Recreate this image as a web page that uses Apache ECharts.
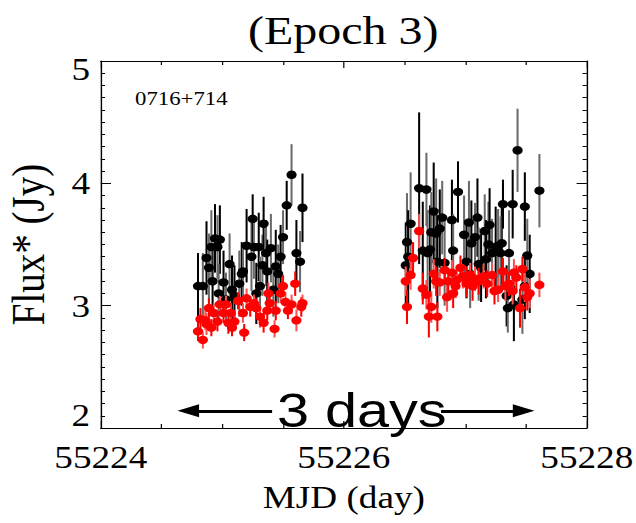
<!DOCTYPE html>
<html><head><meta charset="utf-8">
<script src="https://cdn.jsdelivr.net/npm/echarts@6/dist/echarts.min.js"></script>
<style>
html,body{margin:0;padding:0;background:#fff;overflow:hidden;}
#wrap{width:636px;height:523px;overflow:hidden;background:#fff;}
#c{width:530px;height:523px;transform:scaleX(1.2);transform-origin:0 0;}
</style></head><body><div id="wrap"><div id="c"></div></div>
<script>
// ---- data (MJD, Flux*, error) ----
const blackT = [55224.80,55224.84,55224.87,55224.89,55224.92,55224.91,55224.94,55224.96,55224.98,55224.97,55225.01,55225.06,55225.08,55225.03,55225.10,55225.14,55225.16,55225.17,55225.20,55225.24,55225.25,55225.26,55225.30,55225.33,55225.34,55225.36,55225.37,55225.31,55225.28,55225.40,55225.44,55225.46,55225.48,55225.50,55225.53,55225.57,55225.61,55225.64,55225.66,55225.42,
55226.51,55226.52,55226.53,55226.55,55226.62,55226.68,55226.65,55226.69,55226.71,55226.72,55226.74,55226.76,55226.79,55226.81,55226.77,55226.83,55226.89,55226.90,55226.94,55226.99,55227.01,55227.03,55227.05,55227.08,55227.10,55227.11,55227.13,55227.16,55227.17,55227.19,55227.20,55227.22,55227.25,55227.27,55227.30,55227.29,55227.31,55227.36,55227.39,55227.43,55227.49,55227.51,55227.53,55227.61,55227.34,55227.35,55227.40,55227.47,55227.49,55227.04];
const blackF = [3.16,3.16,3.39,3.31,3.20,3.48,3.55,3.48,3.54,3.10,3.19,3.34,3.13,3.05,3.08,3.18,3.26,3.28,3.49,3.40,3.71,3.48,3.48,3.33,3.67,3.43,3.28,3.16,3.10,3.47,3.32,3.26,3.40,3.56,3.82,4.07,3.43,3.36,3.80,3.13,
3.33,3.52,3.40,3.67,3.96,3.95,3.45,3.43,3.46,3.60,3.77,3.59,3.63,3.72,3.36,3.35,3.70,3.45,3.93,3.58,3.36,3.68,3.51,3.56,3.72,3.34,3.31,3.61,3.38,3.50,3.66,3.43,3.48,3.49,3.51,3.43,3.83,3.43,3.83,4.27,3.81,3.41,3.26,3.94,3.08,2.98,3.01,3.05,3.16,3.26];
const blackE = [0.27,0.27,0.30,0.28,0.25,0.30,0.28,0.26,0.28,0.24,0.26,0.25,0.28,0.22,0.25,0.27,0.26,0.24,0.30,0.28,0.20,0.26,0.28,0.25,0.22,0.27,0.26,0.24,0.25,0.28,0.30,0.24,0.26,0.22,0.20,0.25,0.27,0.25,0.28,0.22,
0.35,0.40,0.38,0.42,0.62,0.30,0.40,0.35,0.36,0.33,0.40,0.45,0.32,0.30,0.38,0.35,0.33,0.30,0.25,0.32,0.30,0.34,0.35,0.28,0.32,0.30,0.28,0.30,0.32,0.35,0.30,0.28,0.33,0.30,0.35,0.30,0.20,0.35,0.28,0.34,0.28,0.30,0.32,0.30,0.25,0.20,0.30,0.28,0.27,0.28];
const redT = [55224.80,55224.84,55224.82,55224.86,55224.89,55224.87,55224.91,55224.93,55224.96,55224.98,55225.01,55225.03,55225.05,55225.07,55225.08,55225.10,55225.13,55225.17,55225.18,55225.20,55225.23,55225.26,55225.28,55225.31,55225.34,55225.38,55225.39,55225.43,55225.44,55225.48,55225.50,55225.52,55225.54,55225.57,55225.60,55225.61,55225.65,55225.66,55225.37,
55226.51,55226.52,55226.55,55226.57,55226.62,55226.65,55226.68,55226.70,55226.72,55226.77,55226.74,55226.76,55226.79,55226.83,55226.85,55226.86,55226.89,55226.90,55226.93,55226.96,55226.98,55227.01,55227.04,55227.06,55227.08,55227.11,55227.15,55227.18,55227.22,55227.24,55227.27,55227.31,55227.33,55227.36,55227.40,55227.42,55227.39,55227.47,55227.49,55227.51,55227.53,55227.45,55227.61,55227.01,55226.92];
const redF = [2.79,2.72,2.89,2.88,2.98,2.85,2.82,2.94,2.87,3.01,2.94,3.01,2.86,2.94,2.82,2.87,3.04,2.94,2.78,3.06,2.99,3.02,2.98,2.91,2.86,3.10,3.02,2.81,2.96,3.10,3.16,3.03,2.96,3.01,3.18,2.88,2.99,3.02,2.96,
3.20,2.99,3.25,3.39,3.61,3.14,3.09,2.91,2.99,2.91,3.26,3.20,3.19,3.29,3.07,3.20,3.27,3.10,3.21,3.31,3.24,3.21,3.25,3.16,3.22,3.20,3.24,3.18,3.25,3.12,3.13,3.28,3.16,3.18,3.27,3.23,3.12,3.30,3.15,3.07,3.10,2.98,3.17,3.18,3.16];
const redE = [0.08,0.07,0.09,0.08,0.08,0.09,0.07,0.08,0.08,0.07,0.08,0.07,0.09,0.08,0.07,0.08,0.07,0.08,0.07,0.08,0.08,0.07,0.08,0.09,0.08,0.09,0.08,0.07,0.08,0.08,0.09,0.08,0.07,0.08,0.10,0.09,0.08,0.07,0.08,
0.12,0.14,0.12,0.13,0.14,0.13,0.12,0.17,0.13,0.12,0.12,0.12,0.11,0.10,0.12,0.11,0.10,0.12,0.11,0.10,0.10,0.11,0.10,0.12,0.10,0.11,0.10,0.11,0.10,0.11,0.10,0.11,0.12,0.10,0.11,0.10,0.11,0.10,0.12,0.11,0.12,0.16,0.10,0.11,0.10];
const xTickLabels = [55224, 55226, 55228];
const yTickLabels = [2, 3, 4, 5];
const titleText = '(Epoch 3)';
const sourceName = '0716+714';
const spanText = '3 days';
const spanLeft = [55224.72, 55225.41];
const spanRight = [55226.80, 55227.48];
const spanY = 2.14;

const SERIF = '"Liberation Serif","Times New Roman",serif';
const chart = echarts.init(document.getElementById('c'), null, {renderer: 'svg'});

function errRender(colA, colB, w) {
  return function (params, api) {
    const x = api.value(0);
    const p1 = api.coord([x, api.value(1)]);
    const p2 = api.coord([x, api.value(2)]);
    const idx = api.value(3);
    return {
      type: 'line',
      shape: {x1: p1[0], y1: p1[1], x2: p2[0], y2: p2[1]},
      style: {stroke: idx % 2 ? colB : colA, lineWidth: w}
    };
  };
}

const axisCommon = {
  type: 'value', min: 55224, max: 55228, interval: 2,
  axisLine: {show: true, onZero: false, lineStyle: {color: '#000', width: 1.2}},
  axisTick: {show: true, inside: true, length: 7, lineStyle: {color: '#000', width: 1}},
  minorTick: {show: true, splitNumber: 4, length: 4, lineStyle: {color: '#000', width: 1}},
  splitLine: {show: false}, minorSplitLine: {show: false}
};
const yCommon = {
  type: 'value', min: 2, max: 5, interval: 1,
  axisLine: {show: true, onZero: false, lineStyle: {color: '#000', width: 1.2}},
  axisTick: {show: true, inside: true, length: 8.5, lineStyle: {color: '#000', width: 1}},
  minorTick: {show: true, splitNumber: 10, length: 3.5, lineStyle: {color: '#000', width: 1}},
  splitLine: {show: false}, minorSplitLine: {show: false}
};

chart.setOption({
  backgroundColor: '#fff',
  animation: false,
  grid: {left: 84, right: 41, top: 61, bottom: 95, containLabel: false, outerBoundsMode: 'none'},
  xAxis: [
    Object.assign({}, axisCommon, {
      position: 'bottom',
      axisLabel: {show: true, fontFamily: SERIF, fontSize: 31, color: '#000', margin: 14,
        formatter: v => xTickLabels.indexOf(Math.round(v)) >= 0 && Math.abs(v - Math.round(v)) < 1e-6 ? String(Math.round(v)) : ''},
      name: 'MJD (day)', nameLocation: 'middle', nameGap: 54,
      nameTextStyle: {fontFamily: SERIF, fontSize: 31, color: '#000'}
    }),
    Object.assign({}, axisCommon, {position: 'top', axisLabel: {show: false}})
  ],
  yAxis: [
    Object.assign({}, yCommon, {
      position: 'left',
      axisLabel: {show: true, fontFamily: SERIF, fontSize: 31, color: '#000', margin: 9,
        formatter: v => {
          const r = Math.round(v);
          if (yTickLabels.indexOf(r) < 0) return '';
          if (r === yTickLabels[0]) return '{lo|' + r + '}';
          if (r === yTickLabels[yTickLabels.length - 1]) return '{hi|' + r + '}';
          return String(r);
        },
        rich: {
          lo: {fontFamily: SERIF, fontSize: 31, color: '#000', padding: [0, 0, 26, 0]},
          hi: {fontFamily: SERIF, fontSize: 31, color: '#000', padding: [16, 0, 0, 0]}
        }},
      name: 'Flux* (Jy)', nameLocation: 'middle', nameGap: 41, nameRotate: 90,
      nameTextStyle: {fontFamily: SERIF, fontSize: 39, color: '#000'}
    }),
    Object.assign({}, yCommon, {position: 'right', axisLabel: {show: false}})
  ],
  graphic: [
    {type: 'text', x: 286, y: 31, style: {text: titleText, font: '40px ' + SERIF, fill: '#000', textAlign: 'center', textVerticalAlign: 'middle'}},
    {type: 'text', x: 112.5, y: 99, style: {text: sourceName, font: '19px ' + SERIF, fill: '#000', textAlign: 'left', textVerticalAlign: 'middle'}},
    {type: 'text', x: 301.5, y: 410, z: 100, style: {text: spanText, font: '48px "Liberation Sans",Arial,sans-serif', fill: '#000', textAlign: 'center', textVerticalAlign: 'middle'}}
  ],
  series: [
    {type: 'custom', name: 'blackErr', renderItem: errRender('#000', '#6a6a6a', 1.7), z: 2,
      data: blackT.map((t, i) => [t, blackF[i] - blackE[i], blackF[i] + blackE[i], i]), encode: {x: 0, y: [1, 2]}},
    {type: 'scatter', name: 'black', symbol: 'circle', symbolSize: 8.5, z: 3, itemStyle: {color: '#000', opacity: 1},
      data: blackT.map((t, i) => [t, blackF[i]])},
    {type: 'custom', name: 'redErr', renderItem: errRender('#ff0000', '#ff5050', 1.7), z: 4,
      data: redT.map((t, i) => [t, redF[i] - redE[i], redF[i] + redE[i], i]), encode: {x: 0, y: [1, 2]}},
    {type: 'scatter', name: 'red', symbol: 'circle', symbolSize: 8.5, z: 5, itemStyle: {color: '#ff0000', opacity: 1},
      data: redT.map((t, i) => [t, redF[i]]),
      markLine: {
        silent: true, animation: false, symbolSize: [13, 18],
        lineStyle: {color: '#000', width: 3, type: 'solid'},
        label: {show: false},
        data: [
          [{coord: [spanLeft[0], spanY], symbol: 'triangle'}, {coord: [spanLeft[1], spanY], symbol: 'none'}],
          [{coord: [spanRight[0], spanY], symbol: 'none'}, {coord: [spanRight[1], spanY], symbol: 'triangle'}]
        ]
      }}
  ]
});
</script></body></html>
